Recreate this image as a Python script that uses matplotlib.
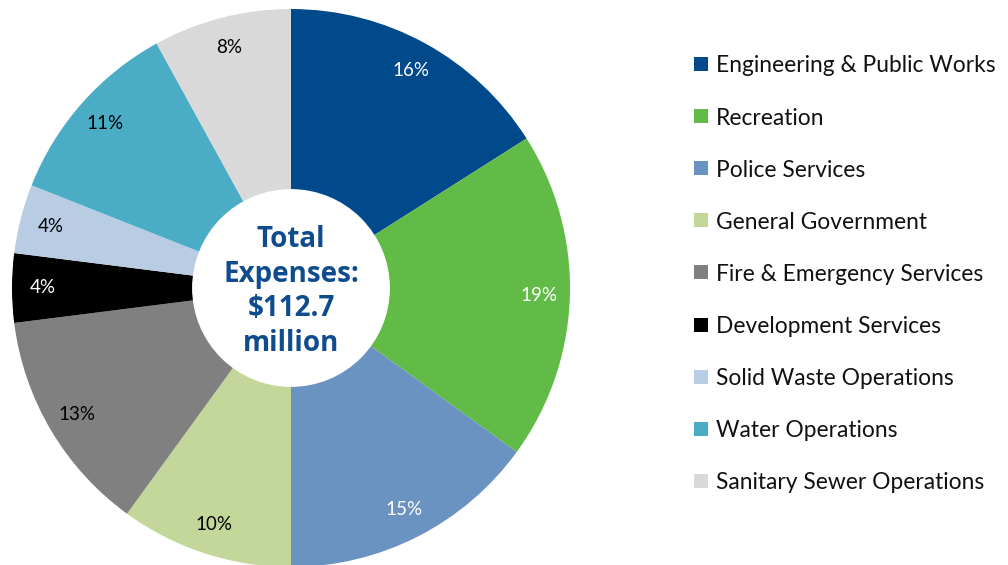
import matplotlib.pyplot as plt
from matplotlib.patches import Rectangle, Circle

departments = ["Engineering & Public Works", "Recreation", "Police Services",
               "General Government", "Fire & Emergency Services",
               "Development Services", "Solid Waste Operations",
               "Water Operations", "Sanitary Sewer Operations"]
shares = [16, 19, 15, 10, 13, 4, 4, 11, 8]
colors = ["#004A8C", "#62BB46", "#6A93C1", "#C4D79B", "#808080",
          "#000000", "#B8CCE4", "#4BACC6", "#D9D9D9"]
label_colors = ["white", "white", "white", "black", "black",
                "white", "black", "black", "black"]
center_text = "Total\nExpenses:\n$112.7\nmillion"

fig = plt.figure(figsize=(10.08, 5.65), dpi=100)

# pie centred at (291, 288) px, radius ~279 px
cx, cy, r = 291, 288, 279
W, H = 1008, 565
ax = fig.add_axes([(cx - r) / W, (H - cy - r) / H, 2 * r / W, 2 * r / H])

wedges, texts, autotexts = ax.pie(
    shares, colors=colors, startangle=90, counterclock=False,
    autopct=lambda p: f"{p:.0f}%", pctdistance=0.89, radius=1,
    wedgeprops=dict(linewidth=0))
for t, c in zip(autotexts, label_colors):
    t.set_color(c)
    t.set_fontsize(13.5)
    t.set_family("Lato")

ax.add_patch(Circle((0, 0), 0.352, color="white", zorder=3))
ax.text(0, -0.012, center_text, ha="center", va="center", fontsize=20,
        fontweight="bold", family="Open Sans", color="#0F4C8E",
        linespacing=1.25, zorder=4)
ax.set_xlim(-1, 1)
ax.set_ylim(-1, 1)
ax.set_aspect("equal")
ax.axis("off")

# legend drawn by hand
y0, step = 64, 52.1
for i, (name, col) in enumerate(zip(departments, colors)):
    y = y0 + i * step
    fig.patches.append(Rectangle((694 / W, (H - y - 7) / H), 14 / W, 14 / H,
                                 facecolor=col, edgecolor="none",
                                 transform=fig.transFigure, figure=fig))
    fig.text(716 / W, (H - y - 2) / H, name, ha="left", va="center",
             fontsize=16.4, family="Lato", color="#111111")

fig.savefig("out.png", dpi=100)
